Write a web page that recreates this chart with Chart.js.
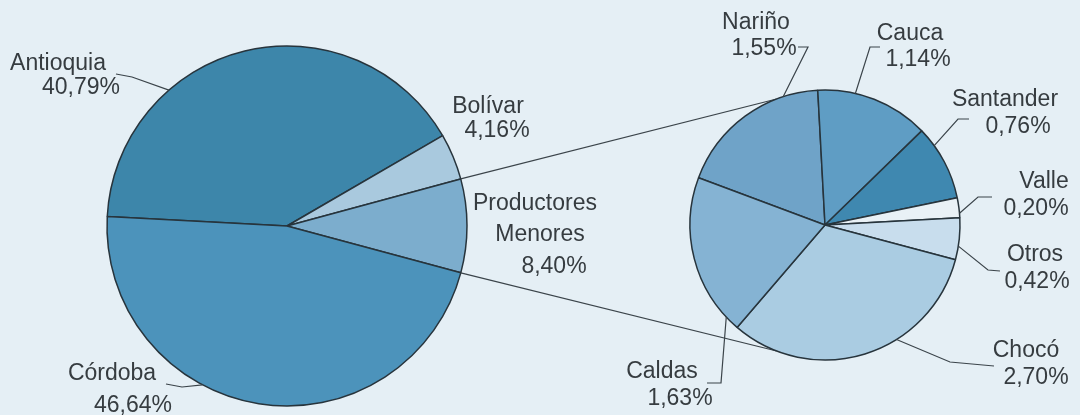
<!DOCTYPE html>
<html>
<head>
<meta charset="utf-8">
<script src="https://cdn.jsdelivr.net/npm/chart.js@4"></script>
<style>
html, body { margin: 0; padding: 0; background: #e5eff5; }
#wrap { position: relative; width: 1080px; height: 415px; overflow: hidden; }
#wrap canvas { position: absolute; left: 0; top: 0; }
</style>
</head>
<body>
<div id="wrap">
  <canvas id="mainPie" width="1080" height="415"></canvas>
  <canvas id="minorPie" width="1080" height="415"></canvas>
</div>
<script>
// data
const mainLabels = ['Antioquia', 'Bolívar', ['Productores', 'Menores'], 'Córdoba'];
const mainValues = [40.79, 4.16, 8.40, 46.64];
const mainColors = ['#3d86aa', '#a9c9de', '#7cadcd', '#4c93bb'];

const minorLabels = ['Nariño', 'Cauca', 'Santander', 'Valle', 'Otros', 'Chocó', 'Caldas'];
const minorValues = [1.55, 1.14, 0.76, 0.20, 0.42, 2.70, 1.63];
const minorColors = ['#6fa3c8', '#5f9dc4', '#3f88b0', '#e9f1f6', '#c8dded', '#aacce2', '#85b3d3'];

const pct = v => v.toFixed(2).replace('.', ',') + '%';

// label placement (text centre x, baseline y) and leader lines
const mainLayout = [
  { text: [[58, 70], [81, 94]], leader: { angle: 229, path: [[132, 77], [116, 74]] } },
  { text: [[488, 113], [497, 137]] },
  { text: [[535, 210], [540, 241], [554, 273]] },
  { text: [[112, 380], [133, 412]], leader: { angle: 118, path: [[182, 387], [166, 384]] } }
];
const minorLayout = [
  { text: [[756, 29], [764, 55]], leader: { angle: 252, path: [[808, 47], [798, 47]] } },
  { text: [[910, 40], [918, 66]], leader: { angle: -77, path: [[870, 47], [880, 47]] } },
  { text: [[1005, 106], [1018, 133]], leader: { angle: -36, path: [[958, 119], [969, 119]] } },
  { text: [[1044, 188], [1036, 215]], leader: { angle: -5, path: [[978, 197], [992, 197]] } },
  { text: [[1035, 261], [1037, 288]], leader: { angle: 9, path: [[988, 270], [1000, 271]] } },
  { text: [[1026, 357], [1036, 384]], leader: { angle: 58, path: [[950, 362], [994, 366]] } },
  { text: [[662, 378], [680, 405]], leader: { angle: 137, path: [[721, 383], [707, 383]] } }
];
// where the link lines meet the small pie
const linkAngles = [-111, 111];

const labelPlugin = {
  id: 'sliceLabels',
  afterDraw(chart, args, opts) {
    const ctx = chart.ctx;
    const arcs = chart.getDatasetMeta(0).data;
    const labels = chart.data.labels;
    const values = chart.data.datasets[0].data;
    ctx.save();
    opts.layout.forEach((l, i) => {
      const arc = arcs[i];
      if (l.leader) {
        const a = l.leader.angle * Math.PI / 180;
        ctx.beginPath();
        ctx.moveTo(arc.x + arc.outerRadius * Math.cos(a), arc.y + arc.outerRadius * Math.sin(a));
        l.leader.path.forEach(p => ctx.lineTo(p[0], p[1]));
        ctx.strokeStyle = '#3b444a';
        ctx.lineWidth = 1.2;
        ctx.stroke();
      }
      const lines = [].concat(labels[i], pct(values[i]));
      ctx.fillStyle = '#363c40';
      ctx.font = '23px "Liberation Sans", Arial, sans-serif';
      ctx.textAlign = 'center';
      ctx.textBaseline = 'alphabetic';
      lines.forEach((t, j) => ctx.fillText(t, l.text[j][0], l.text[j][1]));
    });
    ctx.restore();
  }
};

const linkPlugin = {
  id: 'linkLines',
  beforeDatasetsDraw(chart) {
    const big = mainChart.getDatasetMeta(0).data[2];
    const small = chart.getDatasetMeta(0).data[0];
    const ctx = chart.ctx;
    const ends = [big.startAngle, big.endAngle];
    ctx.save();
    ctx.strokeStyle = '#3b444a';
    ctx.lineWidth = 1.2;
    ends.forEach((a, k) => {
      const b = linkAngles[k] * Math.PI / 180;
      ctx.beginPath();
      ctx.moveTo(big.x + big.outerRadius * Math.cos(a), big.y + big.outerRadius * Math.sin(a));
      ctx.lineTo(small.x + small.outerRadius * Math.cos(b), small.y + small.outerRadius * Math.sin(b));
      ctx.stroke();
    });
    ctx.restore();
  }
};

function pieOptions(rotation, radius, padding, layout) {
  return {
    responsive: false,
    animation: false,
    rotation: rotation,
    radius: radius,
    layout: { padding: padding },
    plugins: {
      legend: { display: false },
      tooltip: { enabled: false },
      sliceLabels: { layout: layout }
    }
  };
}

const mainChart = new Chart(document.getElementById('mainPie'), {
  type: 'pie',
  data: {
    labels: mainLabels,
    datasets: [{
      data: mainValues,
      backgroundColor: mainColors,
      borderColor: '#27343c',
      borderWidth: 1.5
    }]
  },
  options: pieOptions(273, 180, { left: 100, right: 606, top: 41, bottom: 4 }, mainLayout),
  plugins: [labelPlugin]
});

const minorChart = new Chart(document.getElementById('minorPie'), {
  type: 'pie',
  data: {
    labels: minorLabels,
    datasets: [{
      data: minorValues,
      backgroundColor: minorColors,
      borderColor: '#27343c',
      borderWidth: 1.5
    }]
  },
  options: pieOptions(290.5, 135, { left: 675, right: 105, top: 75, bottom: 40 }, minorLayout),
  plugins: [linkPlugin, labelPlugin]
});
</script>
</body>
</html>
